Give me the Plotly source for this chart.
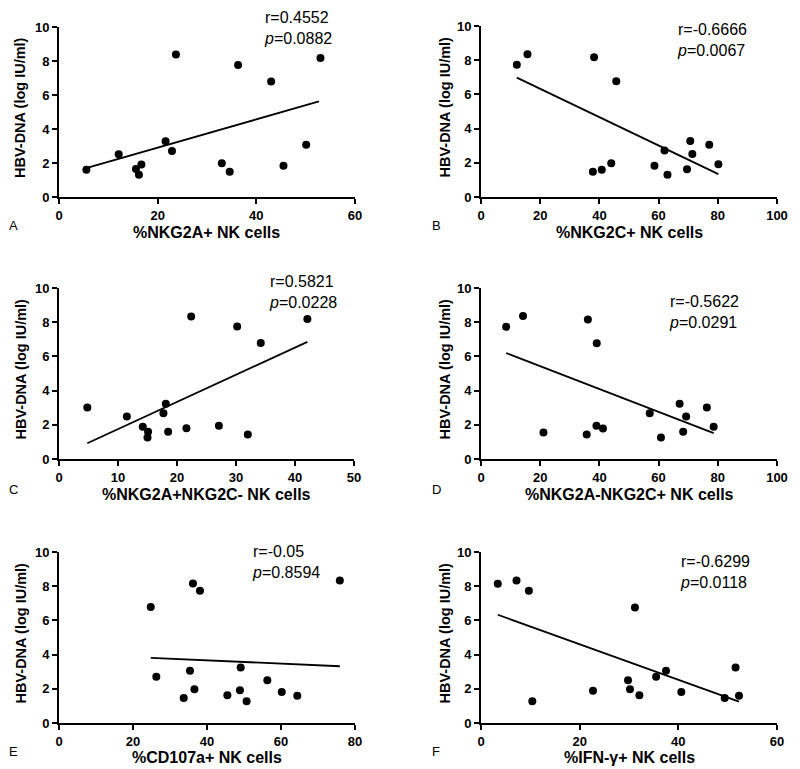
import plotly.graph_objects as go

# ---------------- data ----------------
a_x = [5.55, 12.1, 15.6, 16.2, 16.7, 21.6, 22.9, 23.7, 33.0, 34.6, 36.3, 43.0, 45.5, 50.1, 53.0]
a_y = [1.60, 2.52, 1.64, 1.31, 1.91, 3.28, 2.71, 8.38, 1.99, 1.48, 7.77, 6.80, 1.84, 3.07, 8.18]
a_fit_x = [5.5, 52.7]
a_fit_y = [1.70, 5.62]

b_x = [12.1, 15.7, 38.2, 45.7, 37.8, 40.8, 44.0, 58.6, 62.0, 63.0, 69.6, 70.7, 71.4, 77.1, 80.2]
b_y = [7.74, 8.35, 8.17, 6.77, 1.48, 1.60, 1.98, 1.83, 2.72, 1.30, 1.63, 3.27, 2.51, 3.05, 1.91]
b_fit_x = [12.1, 80.2]
b_fit_y = [6.98, 1.34]

c_x = [4.8, 11.5, 14.2, 15.1, 15.0, 18.5, 17.7, 18.1, 22.4, 21.6, 27.1, 30.2, 32.0, 34.2, 42.1]
c_y = [3.01, 2.49, 1.88, 1.60, 1.25, 1.59, 2.68, 3.23, 8.34, 1.80, 1.94, 7.75, 1.43, 6.79, 8.18]
c_fit_x = [4.8, 42.1]
c_fit_y = [0.92, 6.85]

d_x = [8.5, 14.2, 36.1, 39.1, 21.1, 35.7, 39.0, 41.2, 57.0, 60.8, 67.1, 69.3, 68.3, 76.3, 78.6]
d_y = [7.73, 8.36, 8.16, 6.77, 1.55, 1.43, 1.94, 1.78, 2.68, 1.25, 3.23, 2.49, 1.60, 3.01, 1.88]
d_fit_x = [8.5, 78.6]
d_fit_y = [6.20, 1.51]

e_x = [24.8, 26.3, 33.7, 35.4, 36.2, 36.6, 38.1, 45.5, 48.9, 49.1, 50.7, 56.3, 60.2, 64.4, 75.9]
e_y = [6.78, 2.70, 1.46, 3.05, 8.16, 1.97, 7.73, 1.62, 1.91, 3.24, 1.27, 2.50, 1.82, 1.60, 8.34]
e_fit_x = [24.8, 75.9]
e_fit_y = [3.81, 3.32]

f_x = [3.4, 7.2, 9.7, 10.4, 22.7, 29.8, 30.2, 31.2, 32.1, 35.5, 37.5, 40.6, 49.4, 51.6, 52.3]
f_y = [8.14, 8.34, 7.73, 1.27, 1.89, 2.50, 1.97, 6.76, 1.62, 2.70, 3.05, 1.82, 1.46, 3.24, 1.60]
f_fit_x = [3.4, 52.3]
f_fit_y = [6.33, 1.25]

panel_letters = ["A", "B", "C", "D", "E", "F"]
x_titles = ["%NKG2A+ NK cells", "%NKG2C+ NK cells", "%NKG2A+NKG2C- NK cells",
            "%NKG2A-NKG2C+ NK cells", "%CD107a+ NK cells", "%IFN-γ+ NK cells"]
y_title = "HBV-DNA (log IU/ml)"
r_texts = ["r=0.4552", "r=-0.6666", "r=0.5821", "r=-0.5622", "r=-0.05", "r=-0.6299"]
p_texts = ["0.0882", "0.0067", "0.0228", "0.0291", "0.8594", "0.0118"]
x_max = [60, 100, 50, 100, 80, 60]
x_dtick = [20, 20, 10, 20, 20, 20]
y_ticks = [0, 2, 4, 6, 8, 10]

# ---------------- layout geometry (pixels) ----------------
W, H = 800, 769
boxes = [  # (left, right, top, bottom)
    (59, 355, 27, 197),
    (481, 777, 26, 197),
    (59, 354, 288, 459),
    (481, 777, 288, 459),
    (59, 355, 552, 723),
    (481, 777, 552, 723),
]
# top-left of the two-line statistics block
stat_pos = [(263, 8), (676, 20), (268, 272), (668, 292), (251, 542), (679, 552)]
letter_pos = [(13, 225), (436, 225), (13, 489), (436, 490), (13, 751), (436, 751)]
xtitle_y = [232, 232, 494, 494, 757, 757]
ytitle_x = [20, 444, 20, 444, 20, 444]

data = [
    (a_x, a_y, a_fit_x, a_fit_y),
    (b_x, b_y, b_fit_x, b_fit_y),
    (c_x, c_y, c_fit_x, c_fit_y),
    (d_x, d_y, d_fit_x, d_fit_y),
    (e_x, e_y, e_fit_x, e_fit_y),
    (f_x, f_y, f_fit_x, f_fit_y),
]

FONT = "Liberation Sans, Arial, sans-serif"

fig = go.Figure()
annotations = []
layout_axes = {}

for i, (xs, ys, fx, fy) in enumerate(data):
    n = i + 1
    xa = "x" if n == 1 else f"x{n}"
    ya = "y" if n == 1 else f"y{n}"
    fig.add_trace(go.Scatter(x=fx, y=fy, mode="lines", xaxis=xa, yaxis=ya,
                             line=dict(color="black", width=1.8), showlegend=False,
                             hoverinfo="skip"))
    fig.add_trace(go.Scatter(x=xs, y=ys, mode="markers", xaxis=xa, yaxis=ya,
                             marker=dict(color="black", size=8, symbol="circle"),
                             showlegend=False))
    l, r, t, b = boxes[i]
    xkey = "xaxis" if n == 1 else f"xaxis{n}"
    ykey = "yaxis" if n == 1 else f"yaxis{n}"
    common = dict(showgrid=False, zeroline=False, showline=True, linecolor="black",
                  linewidth=2, ticks="outside", ticklen=5, tickwidth=2, tickcolor="black",
                  tickfont=dict(family=FONT, size=13, color="black", weight="bold"),
                  fixedrange=True, automargin=False)
    layout_axes[xkey] = dict(domain=[l / W, r / W], anchor=ya, range=[0, x_max[i]],
                             tick0=0, dtick=x_dtick[i], **common)
    layout_axes[ykey] = dict(domain=[1 - b / H, 1 - t / H], anchor=xa, range=[0, 10],
                             tickvals=y_ticks, **common)

    # axis titles
    annotations.append(dict(
        xref="paper", yref="paper", x=(l + r) / 2 / W, y=1 - xtitle_y[i] / H,
        xanchor="center", yanchor="middle", text=x_titles[i], showarrow=False,
        font=dict(family=FONT, size=16, color="black", weight="bold")))
    annotations.append(dict(
        xref="paper", yref="paper", x=ytitle_x[i] / W, y=1 - ((t + b) / 2 - 4) / H,
        xanchor="center", yanchor="middle", text=y_title, showarrow=False, textangle=-90,
        font=dict(family=FONT, size=14.5, color="black", weight="bold")))
    # statistics (two lines in one text block)
    sx, sy = stat_pos[i]
    annotations.append(dict(
        xref="paper", yref="paper", x=sx / W, y=1 - sy / H, xanchor="left", yanchor="top",
        text=f"{r_texts[i]}<br><i>p</i>={p_texts[i]}", showarrow=False, align="left",
        borderpad=0, font=dict(family=FONT, size=16, color="black")))
    # panel letter
    lx, ly = letter_pos[i]
    annotations.append(dict(
        xref="paper", yref="paper", x=lx / W, y=1 - ly / H, xanchor="center", yanchor="middle",
        text=panel_letters[i], showarrow=False,
        font=dict(family=FONT, size=13, color="black")))

fig.update_layout(
    width=W, height=H, margin=dict(l=0, r=0, t=0, b=0, autoexpand=False),
    paper_bgcolor="white", plot_bgcolor="white",
    annotations=annotations, **layout_axes,
)

fig.write_html("out.html", config={"displayModeBar": False},
               post_script="document.body.style.margin='0';document.body.style.overflow='hidden';")
